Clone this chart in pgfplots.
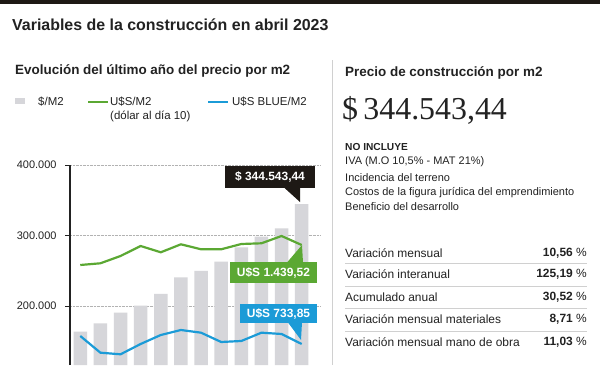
\documentclass[border=0pt]{standalone}
\usepackage{fontspec}
\setmainfont{Liberation Sans}
\newfontfamily\numserif{Liberation Serif}
\usepackage{pgfplots}
\pgfplotsset{compat=1.18}
\definecolor{barc}{HTML}{D6D6DA}
\definecolor{gline}{HTML}{5BA833}
\definecolor{bline}{HTML}{1B9BD7}
\definecolor{darkbox}{HTML}{1E1915}
\definecolor{txt}{HTML}{222222}
\definecolor{sep}{HTML}{D0D0D0}
\newcommand{\fs}[1]{\fontsize{#1}{#1}\selectfont}
\begin{document}
\begin{tikzpicture}[x=1bp,y=1bp]
\path[use as bounding box, fill=white] (0,0) rectangle (600,365);
\fill[darkbox] (0,361) rectangle (600,365);
% titles
\node[anchor=west, inner sep=0, text=txt, font=\fs{16}\bfseries] at (12,340) {Variables de la construcción en abril 2023};
\node[anchor=west, inner sep=0, text=txt, font=\fs{13.5}\bfseries] at (15,294) {Evolución del último año del precio por m2};
% legend
\fill[barc] (15,261) rectangle (25,267);
\node[anchor=west, inner sep=0, text=txt, font=\fs{11.5}] at (38,263) {\$/M2};
\draw[gline, line width=2.2] (88,263) -- (108,263);
\node[anchor=west, inner sep=0, text=txt, font=\fs{11.5}] at (110,263) {U\$S/M2};
\node[anchor=west, inner sep=0, text=txt, font=\fs{11.5}] at (110,249) {(dólar al día 10)};
\draw[bline, line width=2.2] (208,263) -- (228,263);
\node[anchor=west, inner sep=0, text=txt, font=\fs{11.5}] at (232,263) {U\$S BLUE/M2};
% chart
\begin{axis}[at={(70bp,0bp)}, anchor=south west, scale only axis,
  width=250bp, height=200bp,
  xmin=-0.51, xmax=11.91, ymin=116300, ymax=400000,
  axis x line=none, axis y line*=left,
  y axis line style={-, draw=txt, line width=1.2},
  xtick=\empty, ytick={200000,300000,400000},
  yticklabels={200.000,300.000,400.000},
  scaled y ticks=false,
  tick align=outside, major tick length=5bp,
  ytick style={draw=txt, line width=1},
  yticklabel style={font=\fs{11}, text=txt, xshift=-5bp},
  ymajorgrids, major grid style={densely dotted, draw=gray!60, line width=0.6},
  clip=true]
\addplot[ybar, bar width=13.5bp, fill=barc, draw=none] coordinates {
(0,163550) (1,175470) (2,190500) (3,200430) (4,217030) (5,240710)
(6,249650) (7,262840) (8,283270) (9,298300) (10,310210) (11,344543)};
\addplot[gline, line width=2.2, line join=round, no markers] coordinates {
(0,258160) (1,260570) (2,270930) (3,285110) (4,276170) (5,287520)
(6,280430) (7,280430) (8,287950) (9,288940) (10,299290) (11,286530)};
\addplot[bline, line width=2.2, line join=round, no markers] coordinates {
(0,157450) (1,133770) (2,131500) (3,146110) (4,158870) (5,165960)
(6,162130) (7,148940) (8,150360) (9,162130) (10,160290) (11,146110)};
\end{axis}
% callouts
\fill[darkbox] (225,177) rectangle (315,199);
\fill[darkbox] (284,177.5) -- (300,177.5) -- (300,163) -- cycle;
\node[text=white, font=\fs{12}\bfseries, inner sep=0] at (270,188) {\$ 344.543,44};
\fill[gline] (230,82) rectangle (317,103);
\fill[gline] (287,102.5) -- (303,102.5) -- (302,120) -- cycle;
\node[text=white, font=\fs{12}\bfseries, inner sep=0] at (273.5,92.5) {U\$S 1.439,52};
\fill[bline] (240,42) rectangle (317,61);
\fill[bline] (288,42.5) -- (302,42.5) -- (301,25) -- cycle;
\node[text=white, font=\fs{12}\bfseries, inner sep=0] at (278.5,51.5) {U\$S 733,85};
% separator
\draw[sep, line width=1] (332,305) -- (332,0);
% right panel
\node[anchor=west, inner sep=0, text=txt, font=\fs{13.5}\bfseries] at (345,292) {Precio de construcción por m2};
\node[anchor=west, inner sep=0, text=txt, font=\numserif\fs{32}] at (342,255) {\$\,344.543,44};
\node[anchor=west, inner sep=0, text=txt, font=\fs{10.2}\bfseries] at (345,218) {NO INCLUYE};
\node[anchor=west, inner sep=0, text=txt, font=\fs{11}] at (345,203) {IVA (M.O 10,5\% - MAT 21\%)};
\node[anchor=west, inner sep=0, text=txt, font=\fs{11}] at (345,187) {Incidencia del terreno};
\node[anchor=west, inner sep=0, text=txt, font=\fs{11}] at (345,172) {Costos de la figura jurídica del emprendimiento};
\node[anchor=west, inner sep=0, text=txt, font=\fs{11}] at (345,158) {Beneficio del desarrollo};
% table
\foreach \yy in {102,79,57,34} {\draw[sep, line width=0.8] (345,\yy) -- (587,\yy);}
\foreach \yy/\lab/\val in {112/Variación mensual/{10,56}, 91/Variación interanual/{125,19}, 68/Acumulado anual/{30,52}, 46/Variación mensual materiales/{8,71}, 23/Variación mensual mano de obra/{11,03}} {
  \node[anchor=west, inner sep=0, text=txt, font=\fs{12}] at (345,\yy) {\lab};
  \node[anchor=east, inner sep=0, text=txt, font=\fs{12}] at (587,\yy) {\textbf{\val} \%};
}
\end{tikzpicture}
\end{document}
